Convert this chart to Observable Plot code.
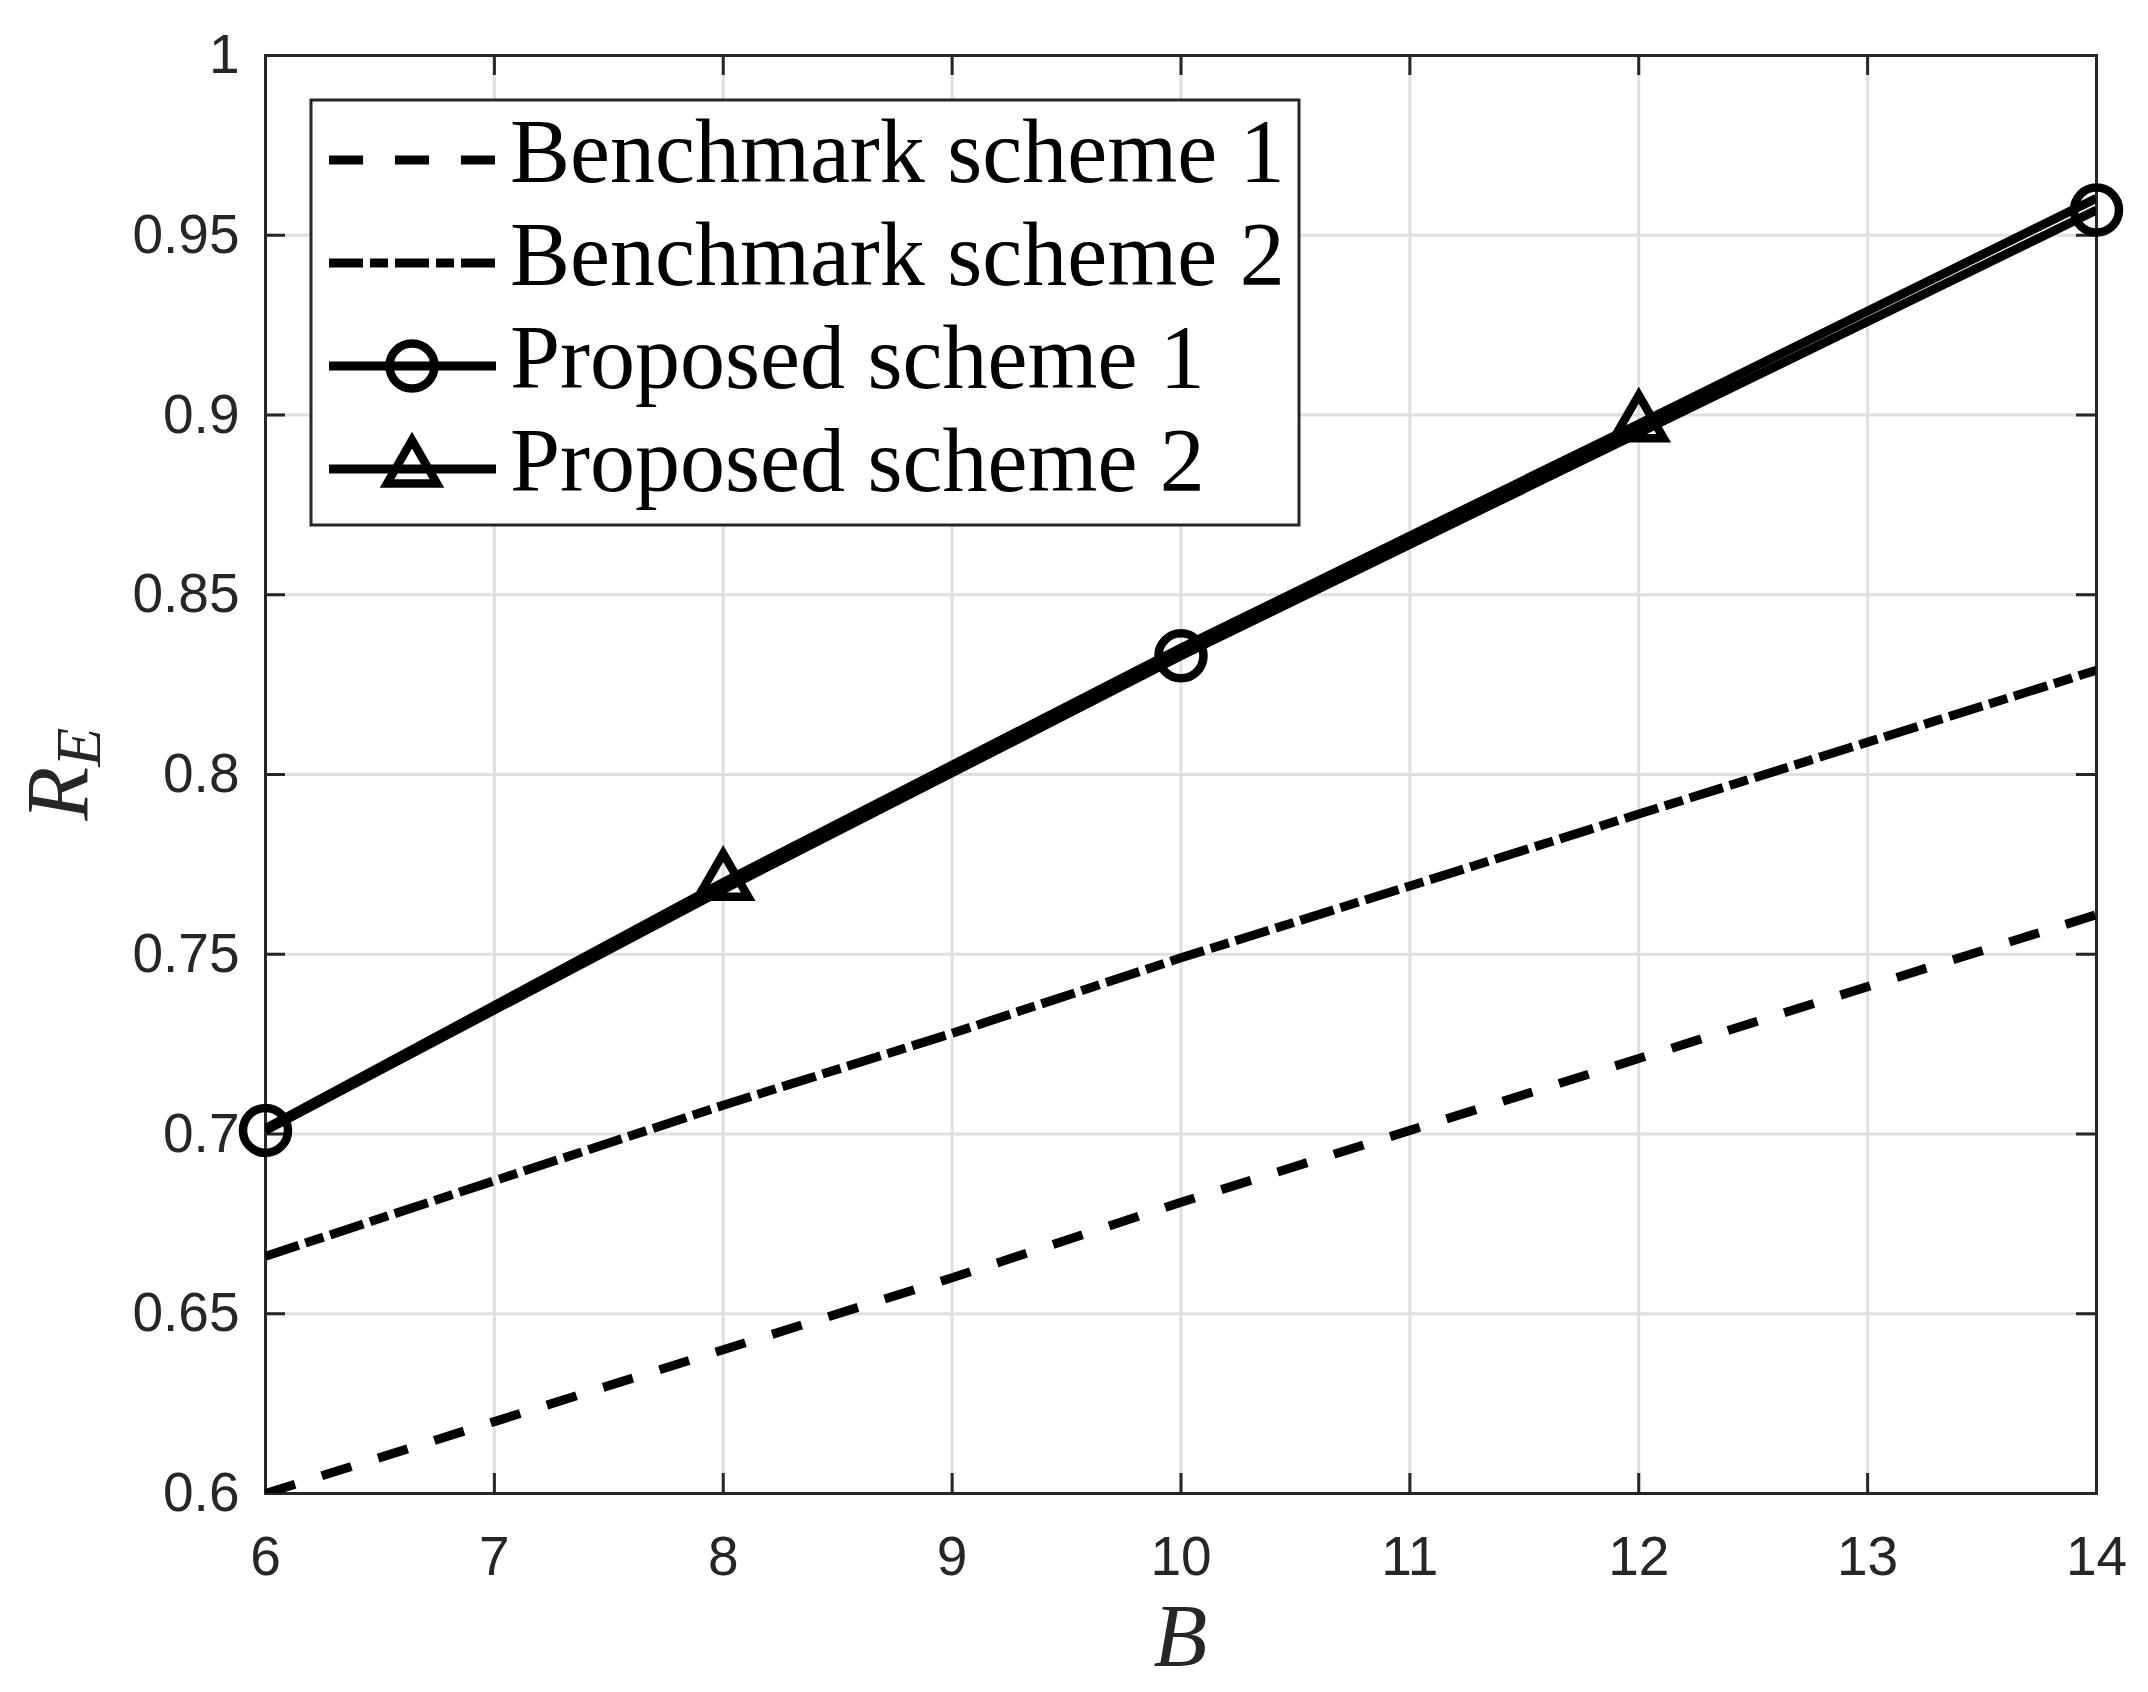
<!DOCTYPE html>
<html><head><meta charset="utf-8">
<script src="https://cdn.jsdelivr.net/npm/d3@7"></script>
<script src="https://cdn.jsdelivr.net/npm/@observablehq/plot@0.6"></script>
<style>body{margin:0;background:#fff} svg{display:block}</style>
</head><body><div id="chart"></div>
<script>
// ---- data ----
const B = [6, 7, 8, 9, 10, 11, 12, 13, 14];
const bench1 = [0.600, 0.620, 0.640, 0.660, 0.681, 0.701, 0.721, 0.741, 0.761];
const bench2 = [0.666, 0.687, 0.708, 0.728, 0.749, 0.769, 0.789, 0.809, 0.829];
const propB = [6, 8, 10, 12, 14];
const prop1 = [0.701, 0.768, 0.833, 0.895, 0.957];
const prop2 = [0.7015, 0.7700, 0.8352, 0.8975, 0.9603];
const prop1MarkerB = [6, 10, 14];
const prop2MarkerB = [8, 12];
const xTicks = [6, 7, 8, 9, 10, 11, 12, 13, 14];
const xTickLabels = ["6", "7", "8", "9", "10", "11", "12", "13", "14"];
const yTicks = [0.6, 0.65, 0.7, 0.75, 0.8, 0.85, 0.9, 0.95, 1];
const yTickLabels = ["0.6", "0.65", "0.7", "0.75", "0.8", "0.85", "0.9", "0.95", "1"];
const seriesNames = ["Benchmark scheme 1", "Benchmark scheme 2", "Proposed scheme 1", "Proposed scheme 2"];

// ---- layout ----
const W = 2148, H = 1692, mL = 265, mR = 52, mT = 55, mB = 199;
const plotW = W - mL - mR, plotH = H - mT - mB;
const tickLen = 20;
const axisColor = "#262626";
const LW = 9;

const b1 = B.map((b, i) => ({B: b, v: bench1[i]}));
const b2 = B.map((b, i) => ({B: b, v: bench2[i]}));
const p1 = propB.map((b, i) => ({B: b, v: prop1[i]}));
const p2 = propB.map((b, i) => ({B: b, v: prop2[i]}));
const p1m = p1.filter(d => prop1MarkerB.includes(d.B));
const p2m = p2.filter(d => prop2MarkerB.includes(d.B));

const tickStyle = {stroke: axisColor, strokeWidth: 3};

const chart = Plot.plot({
  width: W, height: H,
  marginLeft: mL, marginRight: mR, marginTop: mT, marginBottom: mB,
  style: {fontFamily: "'Liberation Sans', Arial, Helvetica, sans-serif", fontSize: "55px", color: axisColor, background: "#fff", overflow: "visible"},
  x: {domain: [6, 14], label: null},
  y: {domain: [0.6, 1], label: null},
  marks: [
    Plot.gridX(xTicks, {stroke: "#dfdfdf", strokeOpacity: 1, strokeWidth: 3}),
    Plot.gridY(yTicks, {stroke: "#dfdfdf", strokeOpacity: 1, strokeWidth: 3}),
    Plot.axisX(xTicks, {tickSize: 0, tickPadding: 42, fontSize: 55, fill: axisColor, label: null,
      tickFormat: d => xTickLabels[xTicks.indexOf(d)]}),
    Plot.axisY(yTicks, {tickSize: 0, tickPadding: 26, fontSize: 55, fill: axisColor, label: null,
      tickFormat: d => yTickLabels[yTicks.indexOf(d)]}),
    Plot.tickX(xTicks, {x: d => d, insetTop: plotH - tickLen, ...tickStyle}),
    Plot.tickX(xTicks, {x: d => d, insetBottom: plotH - tickLen, ...tickStyle}),
    Plot.tickY(yTicks, {y: d => d, insetRight: plotW - tickLen, ...tickStyle}),
    Plot.tickY(yTicks, {y: d => d, insetLeft: plotW - tickLen, ...tickStyle}),
    Plot.frame({stroke: axisColor, strokeWidth: 3}),
    Plot.line(b1, {x: "B", y: "v", stroke: "#000", strokeWidth: LW, strokeDasharray: "31,28", strokeLinecap: "butt", clip: true}),
    Plot.line(b2, {x: "B", y: "v", stroke: "#000", strokeWidth: LW, strokeDasharray: "35,7,19,7", strokeLinecap: "butt", clip: true}),
    Plot.line(p1, {x: "B", y: "v", stroke: "#000", strokeWidth: LW, strokeLinecap: "butt", clip: true}),
    Plot.line(p2, {x: "B", y: "v", stroke: "#000", strokeWidth: LW, strokeLinecap: "butt", clip: true}),
    Plot.dot(p1m, {x: "B", y: "v", r: 22.5, stroke: "#000", strokeWidth: 8.5, fill: "none"}),
    Plot.dot(p2m, {x: "B", y: "v", symbol: "triangle", r: 18.5, stroke: "#000", strokeWidth: 8.5, fill: "none"})
  ]
});

document.getElementById("chart").appendChild(chart);

// ---- axis labels & legend ----
const svg = d3.select(chart);
const serif = "'Liberation Serif', 'Times New Roman', serif";

svg.append("text")
  .attr("x", mL + plotW / 2).attr("y", 1665)
  .attr("text-anchor", "middle")
  .attr("font-family", serif).attr("font-style", "italic").attr("font-size", 88)
  .attr("fill", axisColor)
  .text("B");

const yl = svg.append("text")
  .attr("transform", `translate(87,${mT + plotH / 2}) rotate(-90)`)
  .attr("text-anchor", "middle")
  .attr("font-family", serif).attr("font-style", "italic").attr("font-size", 88)
  .attr("fill", axisColor);
yl.append("tspan").text("R");
yl.append("tspan").attr("font-size", 64).attr("dy", 13).text("E");

const lg = svg.append("g");
lg.append("rect").attr("x", 311).attr("y", 100).attr("width", 988).attr("height", 425)
  .attr("fill", "#fff").attr("stroke", axisColor).attr("stroke-width", 3);
const rowY = [160, 263, 366, 469];
const legendDash = ["34,32", "34,7,18,7", null, null];
seriesNames.forEach((name, i) => {
  const y = rowY[i];
  const ln = lg.append("line").attr("x1", 329).attr("x2", 496).attr("y1", y).attr("y2", y)
    .attr("stroke", "#000").attr("stroke-width", LW);
  if (legendDash[i]) ln.attr("stroke-dasharray", legendDash[i]);
  if (i === 2) {
    lg.append("circle").attr("cx", 412).attr("cy", y).attr("r", 22.5)
      .attr("fill", "none").attr("stroke", "#000").attr("stroke-width", 8.5);
  }
  if (i === 3) {
    lg.append("path").attr("transform", `translate(412,${y})`)
      .attr("d", d3.symbol(d3.symbolTriangle, Math.PI * 18.5 * 18.5)())
      .attr("fill", "none").attr("stroke", "#000").attr("stroke-width", 8.5);
  }
  lg.append("text").attr("x", 510).attr("y", y + 22)
    .attr("text-anchor", "start")
    .attr("font-family", serif).attr("font-size", 90).attr("fill", "#000")
    .text(name);
});
</script>
</body></html>
